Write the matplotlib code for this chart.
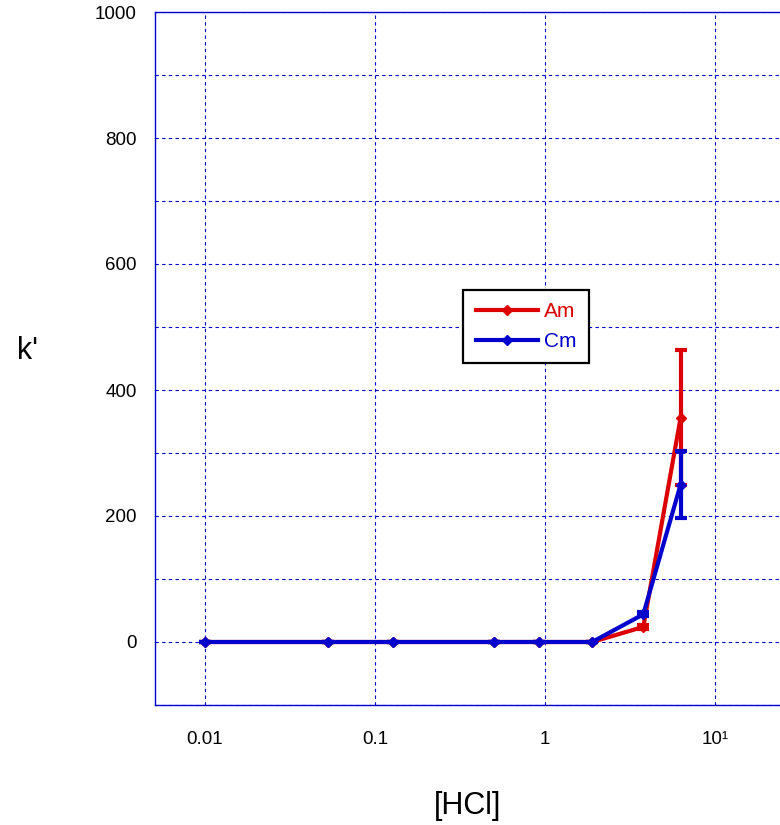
import matplotlib
matplotlib.use("Agg")
import matplotlib.pyplot as plt
from matplotlib.lines import Line2D
from matplotlib.ticker import FixedLocator, MultipleLocator

plt.rcParams['font.family'] = ['Liberation Sans', 'DejaVu Sans']

# datos
hcl = [0.01, 0.053, 0.128, 0.5, 0.93, 1.9, 3.8, 6.3]
am = [0, 0, 0, 0, 0, 0, 24, 356]
am_err = [0, 0, 0, 0, 0, 0, 3, 107]
cm = [0, 0, 0, 0, 0, 0, 44, 250]
cm_err = [0, 0, 0, 0, 0, 0, 3, 53]

xticks = [0.01, 0.1, 1, 10]
xtick_labels = ["0.01", "0.1", "1", "10\u00b9"]
yticks = [0, 200, 400, 600, 800, 1000]

rojo = "#dd0000"
azul = "#0000cc"

fig = plt.figure(figsize=(7.8, 8.25), dpi=100)
ax = fig.add_axes([155 / 780, 120 / 825, (817 - 155) / 780, 693 / 825])

ax.errorbar(hcl, am, yerr=am_err, color=rojo, lw=3, marker="D", ms=5.5,
            capsize=4, capthick=3, elinewidth=3, zorder=3)
ax.errorbar(hcl, cm, yerr=cm_err, color=azul, lw=3, marker="D", ms=5.5,
            capsize=4, capthick=3, elinewidth=3, zorder=4)

ax.set_xscale("log")
ax.set_xlim(0.00508, 40)
ax.set_ylim(-100, 1000)

ax.xaxis.set_major_locator(FixedLocator(xticks))
ax.xaxis.set_minor_locator(FixedLocator([]))
ax.set_xticklabels(xtick_labels)
ax.set_yticks(yticks)
ax.yaxis.set_minor_locator(MultipleLocator(100))

ax.tick_params(which="both", length=0, labelsize=13.5)
ax.tick_params(axis="x", pad=19)
ax.tick_params(axis="y", pad=13)

ax.grid(True, which="both", axis="y", color=azul, ls=(0, (3, 3)), lw=0.8)
ax.grid(True, which="major", axis="x", color=azul, ls=(0, (3, 3)), lw=0.8)

for lado in ["left", "top", "bottom", "right"]:
    ax.spines[lado].set_color(azul)
    ax.spines[lado].set_linewidth(1.0)

# etiquetas de los ejes
fig.text(468 / 780, 1 - 806 / 825, "[HCl]", fontsize=22, ha="center", va="center")
fig.text(28 / 780, 1 - 351 / 825, "k'", fontsize=22, ha="center", va="center")

handles = [Line2D([], [], color=rojo, lw=3, marker="D", ms=5.5),
           Line2D([], [], color=azul, lw=3, marker="D", ms=5.5)]
leg = ax.legend(handles, ["Am", "Cm"], loc="upper left",
                bbox_to_anchor=((463 - 155) / 662, (705 - 290) / 693),
                fontsize=15, frameon=True, fancybox=False, borderaxespad=0,
                handlelength=3.0, handletextpad=0.3, borderpad=0.6, labelspacing=0.5)
leg.get_frame().set_edgecolor("black")
leg.get_frame().set_linewidth(1.6)
leg.get_frame().set_alpha(1)
for txt, c in zip(leg.get_texts(), [rojo, azul]):
    txt.set_color(c)

fig.savefig("out.png", dpi=100)
